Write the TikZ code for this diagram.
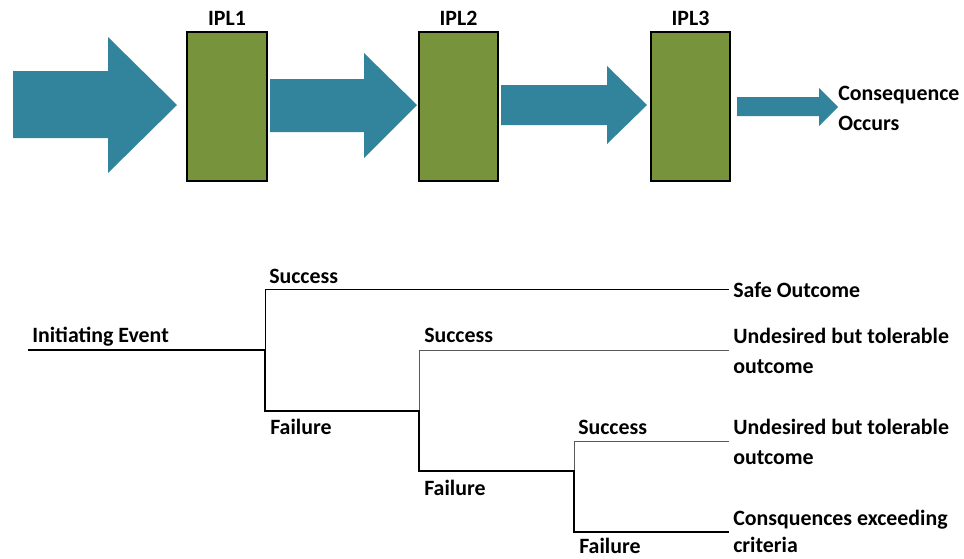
\documentclass[tikz,border=0pt]{standalone}
\usepackage{fontspec}
\setmainfont{Carlito}
\definecolor{teal}{HTML}{31849B}
\definecolor{olive}{HTML}{77933C}
\newcommand{\mytwo}[2]{\parbox[t]{8cm}{\baselineskip=#1\relax #2}}
\begin{document}
\begin{tikzpicture}[x=0.75pt,y=-0.75pt,
  lbl/.style={anchor=base west,inner sep=0pt,font=\fontsize{16.4}{19}\selectfont\bfseries},
  ipl/.style={draw=black,line width=2pt,fill=olive},
  blockarrow/.style={fill=teal,draw=none},
  thickline/.style={line width=2pt,line join=miter},
  thinline/.style={line width=0.75pt},
  greyline/.style={line width=0.75pt,draw=black!65}]
\useasboundingbox (0,0) rectangle (964,558);
% block arrows
\fill[blockarrow] (13,71) -- (108,71) -- (108,37) -- (177,105) -- (108,173) -- (108,138) -- (13,138) -- cycle;
\fill[blockarrow] (270,79) -- (364,79) -- (364,53) -- (417,105) -- (364,158) -- (364,132) -- (270,132) -- cycle;
\fill[blockarrow] (501,85) -- (607,85) -- (607,66) -- (647,105) -- (607,144) -- (607,125) -- (501,125) -- cycle;
\fill[blockarrow] (737,97) -- (819,97) -- (819,88) -- (838,107) -- (819,126) -- (819,116) -- (737,116) -- cycle;
% IPL boxes
\draw[ipl] (187,32) rectangle (267,181);
\draw[ipl] (419,32) rectangle (498,181);
\draw[ipl] (651,32) rectangle (730,181);
\node[lbl,anchor=base] (ipl1) at (227,25.7) {IPL1};
\node[lbl,anchor=base] (ipl2) at (458.5,25.7) {IPL2};
\node[lbl,anchor=base] (ipl3) at (690.5,25.7) {IPL3};
\node[lbl] (cons) at (838,100) {\mytwo{22.5pt}{Consequence\\Occurs}};
% event tree
\coordinate (ie0) at (28,350);
\coordinate (n1) at (265,350);
\coordinate (s1) at (265,289);
\coordinate (s1e) at (729,289);
\coordinate (f1) at (265,411);
\coordinate (n2) at (419,411);
\coordinate (s2) at (419,350);
\coordinate (s2e) at (729,350);
\coordinate (f2) at (419,471);
\coordinate (n3) at (574,471);
\coordinate (s3) at (574,441);
\coordinate (s3e) at (729,441);
\coordinate (f3) at (574,532);
\coordinate (f3e) at (729,532);
\draw[thinline] (n1) -- (s1) -- (s1e);
\draw[greyline] (n2) -- (s2) -- (s2e);
\draw[greyline] (n3) -- (s3) -- (s3e);
\draw[thickline] (ie0) -- (n1) -- (f1) -- (n2) -- (f2) -- (n3) -- (f3) -- (f3e);
\node[lbl] (ie) at (32,342.7) {Initiating Event};
\node[lbl] (suc1) at (269,283.3) {Success};
\node[lbl] (fail1) at (270,434) {Failure};
\node[lbl] (suc2) at (424,342.7) {Success};
\node[lbl] (fail2) at (424,495) {Failure};
\node[lbl] (suc3) at (578,434.3) {Success};
\node[lbl] (fail3) at (579,553) {Failure};
\node[lbl] (o1) at (733,297.7) {Safe Outcome};
\node[lbl] (o2) at (733,343.5) {\mytwo{22.5pt}{Undesired but tolerable\\outcome}};
\node[lbl] (o3) at (733,434.3) {\mytwo{22.5pt}{Undesired but tolerable\\outcome}};
\node[lbl] (o4) at (733,525.5) {\mytwo{20.5pt}{Consquences exceeding\\criteria}};
\end{tikzpicture}
\end{document}
